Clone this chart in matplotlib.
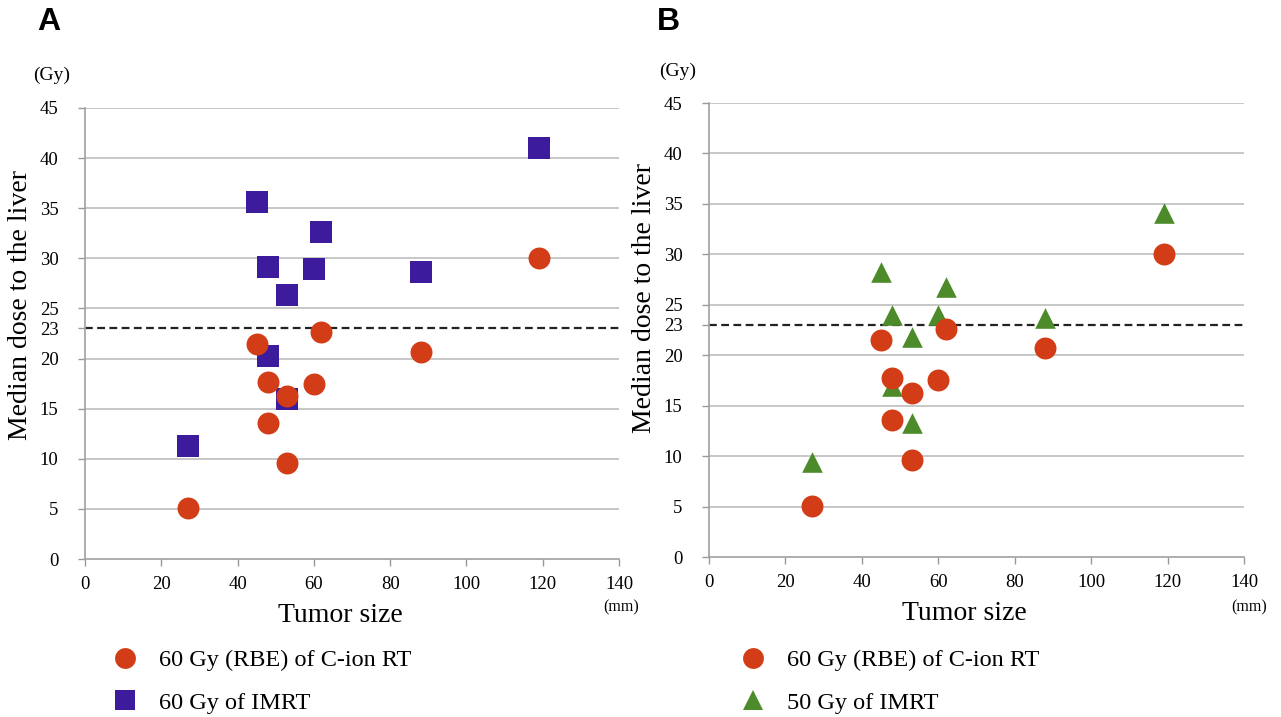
import numpy as np
import matplotlib
matplotlib.use("Agg")
import matplotlib.pyplot as plt
from matplotlib.lines import Line2D

# tumor size (mm), one per patient
tumor_size = [27, 45, 48, 48, 53, 53, 60, 62, 88, 119]
# median liver dose (Gy)
cion_60 = [5.1, 21.5, 17.7, 13.6, 16.3, 9.6, 17.5, 22.6, 20.7, 30.0]
imrt_60 = [11.3, 35.6, 29.1, 20.3, 26.3, 16.0, 28.9, 32.6, 28.6, 41.0]
imrt_50 = [9.4, 28.2, 24.0, 16.9, 21.8, 13.3, 24.0, 26.8, 23.7, 34.1]

x_ticks = [0, 20, 40, 60, 80, 100, 120, 140]
y_ticks = [0, 5, 10, 15, 20, 23, 25, 30, 35, 40, 45]
threshold = 23

RED = "#d23c17"
PURPLE = "#3c1c9c"
GREEN = "#4c8a2a"

plt.rcParams['font.family'] = ['Liberation Serif', 'DejaVu Serif']

fig = plt.figure(figsize=(12.81, 7.17), dpi=100)

W, H = 1281, 717


def make_ax(left, right, top, bottom):
    return fig.add_axes([left / W, 1 - bottom / H, (right - left) / W, (bottom - top) / H])


def style(ax, ylab_y):
    ax.set_xlim(0, 140)
    ax.set_ylim(0, 45)
    ax.set_xticks(x_ticks)
    ax.set_yticks(y_ticks)
    ax.tick_params(axis='x', length=5, width=1, color='#999999', labelsize=13.5, pad=7)
    ax.tick_params(axis='y', length=5, width=1, color='#999999', labelsize=13.5, pad=14)
    for s in ['top', 'right']:
        ax.spines[s].set_visible(False)
    for s in ['left', 'bottom']:
        ax.spines[s].set_color('#a0a0a0')
        ax.spines[s].set_linewidth(1.2)
    for y in y_ticks:
        if y % 5 == 0 and y > 0:
            ax.axhline(y, color='#bdbdbd', lw=1.2, zorder=0)
    ax.axhline(threshold, color='#222222', lw=1.6, ls=(0, (3.5, 2)), zorder=1)
    ax.set_xlabel("Tumor size", fontsize=20)
    ax.xaxis.set_label_coords(0.478, -0.098)
    ax.set_ylabel("Median dose to the liver", fontsize=20)
    ax.yaxis.set_label_coords(-0.097, ylab_y)


axA = make_ax(85, 619, 108, 559)
axB = make_ax(709, 1244, 103, 557)

style(axA, 0.563)
style(axB, 0.57)

axA.scatter(tumor_size, imrt_60, marker='s', s=270, color=PURPLE, zorder=3, linewidths=0)
axA.scatter(tumor_size, cion_60, marker='o', s=250, color=RED, zorder=4, linewidths=0)

axB.scatter(tumor_size, imrt_50, marker='^', s=220, color=GREEN, zorder=3, linewidths=0)
axB.scatter(tumor_size, cion_60, marker='o', s=250, color=RED, zorder=4, linewidths=0)

# panel letters and unit labels
fig.text(37 / W, 1 - 22 / H, "A", fontsize=23, fontweight='bold', family='Liberation Sans', va='center')
fig.text(657 / W, 1 - 22 / H, "B", fontsize=23, fontweight='bold', family='Liberation Sans', va='center')
fig.text(33 / W, 1 - 75 / H, "(Gy)", fontsize=14, va='center')
fig.text(659 / W, 1 - 71 / H, "(Gy)", fontsize=14, va='center')
fig.text(603 / W, 1 - 607 / H, "(mm)", fontsize=11.5, va='center')
fig.text(1231 / W, 1 - 607 / H, "(mm)", fontsize=11.5, va='center')


def legend(x, y, items):
    handles = [Line2D([], [], ls='none', marker=m, color=c, markersize=15, markeredgewidth=0)
               for m, c, _ in items]
    labels = [t for _, _, t in items]
    fig.legend(handles, labels, loc='upper left', bbox_to_anchor=(x / W, 1 - y / H),
               frameon=False, fontsize=17.5, borderpad=0, borderaxespad=0,
               handlelength=1.0, handletextpad=0.9, labelspacing=0.85)


legend(113, 649, [('o', RED, "60 Gy (RBE) of C-ion RT"), ('s', PURPLE, "60 Gy of IMRT")])
legend(741, 649, [('o', RED, "60 Gy (RBE) of C-ion RT"), ('^', GREEN, "50 Gy of IMRT")])

fig.savefig("out.png", dpi=100)
